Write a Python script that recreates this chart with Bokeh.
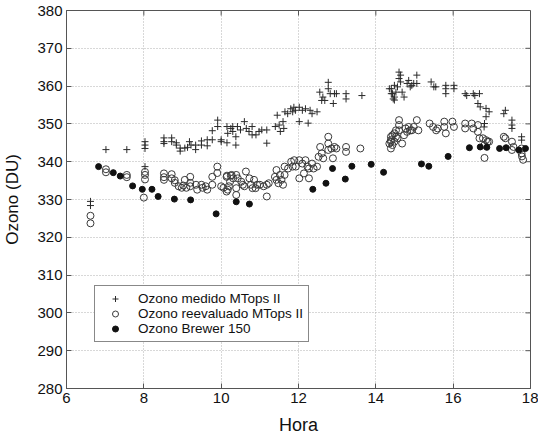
import math
from bokeh.plotting import figure
from bokeh.models import FixedTicker, Legend, LegendItem
from bokeh.embed import file_html
from bokeh.resources import INLINE

# ---- data ----
medido_hora = [6.62, 6.62, 7.02, 7.56, 8.03, 8.03, 8.03, 8.03, 8.52, 8.52, 8.52, 8.72, 8.72,
               8.84, 8.84, 8.94, 8.94, 9.06, 9.13, 9.18, 9.22, 9.34, 9.34, 9.49, 9.49, 9.64, 9.64,
               9.77, 9.77, 9.91, 9.91, 10.0, 10.0, 10.15, 10.15, 10.17, 10.25, 10.3, 10.3, 10.38, 10.38,
               10.42, 10.5, 10.6, 10.65, 10.72, 10.8, 10.8, 10.9, 10.98, 11.05, 11.18, 11.18,
               11.4, 11.45, 11.5, 11.53, 11.6, 11.62, 11.65, 11.72, 11.8, 11.88, 11.85, 11.92,
               12.02, 12.02, 12.1, 12.18, 12.25, 12.3, 12.35, 12.48, 12.55, 12.6, 12.63, 12.68,
               12.77, 12.77, 12.82, 12.9, 12.93, 12.98, 13.23, 13.23, 13.64,
               14.4, 14.4, 14.45, 14.48,
               14.35, 14.43, 14.48, 14.52, 14.48, 14.56, 14.64, 14.6, 14.64, 14.6, 14.68, 14.73,
               14.81, 14.85, 14.89, 14.93, 14.98, 15.06, 15.06,
               15.43, 15.5, 15.55, 15.81, 15.81, 15.81, 16.02, 16.02, 16.31, 16.35, 16.52, 16.56,
               16.68, 16.64, 16.7, 16.85, 16.85, 16.81, 16.93, 16.8, 17.31, 17.35,
               17.52, 17.52, 17.52, 17.77, 17.77]
medido_ozono = [329.5, 328.4, 343.2, 343.2, 345.3, 344.4, 343.5, 338.7, 346.3, 345.3, 344.8, 346.3, 345.3,
                345.0, 344.4, 343.6, 342.8, 343.6, 343.8, 345.3, 344.4, 344.4, 343.2, 345.5, 344.4, 345.8, 344.2,
                345.8, 348.2, 351.0, 349.3, 345.8, 345.3, 349.3, 345.0, 347.5, 348.8, 349.3, 348.0, 346.6, 344.4,
                349.3, 348.4, 350.6, 348.8, 348.0, 347.1, 349.3, 347.1, 348.0, 348.4, 348.4, 344.9,
                349.3, 352.3, 349.7, 348.0, 350.6, 348.8, 353.2, 352.7, 354.0, 354.4, 353.2, 353.6,
                350.6, 354.4, 353.6, 354.0, 350.2, 353.6, 352.7, 353.2, 358.4, 356.2, 357.1, 356.2,
                361.0, 359.3, 358.0, 355.4, 358.0, 358.0, 358.0, 356.6, 357.5,
                359.3, 358.0, 356.6, 360.2,
                359.3, 358.0, 357.1, 358.4, 356.3, 359.8, 361.1, 363.7, 362.9, 362.0, 358.4, 357.1,
                360.7, 361.5, 359.8, 360.2, 360.7, 362.9, 360.7,
                361.1, 359.8, 359.8, 360.2, 359.3, 358.0, 360.2, 359.3, 358.0, 357.5, 358.0, 357.5,
                358.0, 355.4, 354.5, 354.1, 351.9, 350.1, 353.2, 349.2, 352.7, 353.6,
                351.0, 349.7, 348.8, 346.6, 345.7]

reeval_hora = [6.62, 6.62, 7.02, 7.02, 7.56, 7.56, 8.03, 8.03, 8.03, 8.0, 8.52, 8.52, 8.52,
               8.72, 8.72, 8.8, 8.8, 8.9, 8.98, 9.02, 9.1, 9.06, 9.2, 9.2, 9.2, 9.35, 9.38,
               9.49, 9.52, 9.6, 9.64, 9.77, 9.77, 9.9, 9.9, 10.0, 10.06, 10.15, 10.17, 10.2, 10.25,
               10.14, 10.14, 10.27, 10.23, 10.31, 10.39, 10.39, 10.39, 10.43,
               10.52, 10.56, 10.64, 10.6, 10.73, 10.77, 10.81, 10.89, 10.85, 10.93,
               11.0, 11.1, 11.18, 11.18, 11.23,
               11.39, 11.43, 11.43, 11.48, 11.52, 11.56, 11.6, 11.64, 11.64,
               11.73, 11.81, 11.85, 11.89, 11.93, 12.02, 12.02, 12.1, 12.14, 12.18, 12.23, 12.27,
               12.27, 12.35, 12.39, 12.48,
               12.52, 12.56, 12.6, 12.64, 12.77, 12.77, 12.77, 12.85, 12.89, 12.93, 12.98,
               13.23, 13.23, 13.6,
               14.39, 14.39, 14.39, 14.43, 14.48,
               14.35, 14.39, 14.43, 14.48, 14.52, 14.52, 14.56, 14.6, 14.6, 14.6, 14.68, 14.73,
               14.77, 14.81, 14.85, 14.89, 14.93, 14.98, 15.06, 15.1,
               15.39, 15.48, 15.56, 15.6, 15.77, 15.77, 15.81, 15.98, 16.02,
               16.31, 16.31, 16.48, 16.52,
               16.64, 16.64, 16.68, 16.77, 16.81, 16.85, 16.89, 16.93, 16.81,
               17.31, 17.35, 17.52, 17.56, 17.52,
               17.77, 17.78, 17.81, 17.77]
reeval_ozono = [325.7, 323.7, 338.0, 337.2, 336.5, 335.9, 337.3, 336.5, 335.3, 330.5, 336.9, 335.9, 335.2,
                336.7, 335.6, 335.1, 334.4, 333.5, 333.1, 333.7, 333.1, 335.2, 336.0, 334.4, 333.5, 333.9, 332.6,
                333.9, 333.1, 333.5, 332.6, 336.0, 333.9, 338.7, 337.0, 333.5, 333.1, 336.3, 332.6, 333.5, 336.3,
                336.0, 332.1, 336.5, 334.7, 335.6, 336.5, 333.0, 331.2, 335.6,
                334.7, 333.9, 337.4, 333.5, 335.6, 333.9, 333.0, 333.0, 335.2, 333.9,
                333.9, 333.5, 333.9, 330.8, 334.3,
                336.0, 337.8, 335.2, 334.3, 336.5, 335.2, 333.9, 338.7, 336.5,
                338.2, 340.0, 338.7, 340.4, 338.7, 340.4, 335.6, 339.5, 336.9, 340.4, 338.7, 338.2,
                335.6, 339.5, 338.2, 338.7,
                341.3, 343.9, 342.2, 340.9, 346.6, 344.8, 343.1, 343.5, 340.9, 343.9, 343.5,
                343.9, 342.6, 343.5,
                346.6, 345.3, 343.5, 344.4, 347.5,
                344.8, 345.7, 347.0, 345.3, 346.6, 348.3, 346.2, 351.0, 349.7, 348.3, 344.8, 347.0,
                348.8, 347.9, 349.2, 348.3, 348.3, 349.2, 351.0, 348.3,
                350.1, 349.2, 348.3, 348.8, 350.6, 349.2, 347.5, 350.6, 349.2,
                350.1, 348.8, 350.1, 348.8,
                349.7, 347.9, 346.2, 346.2, 341.0, 345.7, 345.3, 345.3, 344.4,
                346.6, 346.2, 345.3, 343.9, 343.1,
                342.2, 341.4, 340.5, 343.5]

brewer_hora = [6.83, 7.21, 7.39, 7.71, 7.96, 8.21, 8.37, 8.79, 9.21, 9.87,
               10.39, 10.73, 12.37, 12.71, 12.88, 13.21, 13.38, 13.88, 14.2,
               15.18, 15.37, 15.87, 16.42, 16.7, 16.87, 17.2, 17.37, 17.7, 17.87]
brewer_ozono = [338.7, 337.1, 336.2, 333.6, 332.7, 332.7, 330.8, 330.1, 329.9, 326.2,
                329.4, 328.8, 332.7, 334.3, 338.2, 335.4, 338.8, 339.3, 337.2,
                339.4, 338.8, 341.4, 343.7, 343.9, 343.8, 343.5, 343.7, 343.1, 343.5]

x_ticks = [6, 8, 10, 12, 14, 16, 18]
y_ticks = [280, 290, 300, 310, 320, 330, 340, 350, 360, 370, 380]

labels = ["Ozono medido MTops II", "Ozono reevaluado MTops II", "Ozono Brewer 150"]

FONT = "Liberation Sans"
AXC = "#555555"

p = figure(width=538, height=437, x_range=(6, 18), y_range=(280, 380),
           output_backend="svg", toolbar_location=None,
           min_border_left=58, min_border_right=8, min_border_top=10, min_border_bottom=48)

r1 = p.scatter(medido_hora, medido_ozono, marker="cross", size=7,
               line_color="#2a2a2a", line_width=1)
r2 = p.scatter(reeval_hora, reeval_ozono, marker="circle", size=7,
               fill_color=None, line_color="#3a3a3a", line_width=1)
r3 = p.scatter(brewer_hora, brewer_ozono, marker="circle", size=6,
               fill_color="#111111", line_color="#111111", line_width=1)

for ax in (p.xaxis[0], p.yaxis[0]):
    ax.major_tick_in = 5
    ax.major_tick_out = 0
    ax.minor_tick_in = 0
    ax.minor_tick_out = 0
    ax.axis_line_color = AXC
    ax.major_tick_line_color = AXC
    ax.major_label_text_font = FONT
    ax.major_label_text_font_size = "15px"
    ax.major_label_text_color = "#111111"
    ax.axis_label_text_font = FONT
    ax.axis_label_text_font_style = "normal"
    ax.axis_label_text_color = "#111111"

p.xaxis.ticker = FixedTicker(ticks=x_ticks)
p.yaxis.ticker = FixedTicker(ticks=y_ticks)
p.xaxis.axis_label = "Hora"
p.yaxis.axis_label = "Ozono (DU)"
p.xaxis.axis_label_text_font_size = "18px"
p.yaxis.axis_label_text_font_size = "17px"
p.xaxis.major_label_standoff = 4
p.yaxis.major_label_standoff = 4
p.xaxis.axis_label_standoff = 9
p.yaxis.axis_label_standoff = 12

# inward tick marks on the right and top sides of the box (drawn at the tick values)
p.ray(x=[18] * len(y_ticks), y=y_ticks, length=5, length_units="screen",
      angle=math.pi, line_color=AXC, line_width=1)
p.ray(x=x_ticks, y=[380] * len(x_ticks), length=5, length_units="screen",
      angle=-math.pi / 2, line_color=AXC, line_width=1)

p.xgrid.ticker = FixedTicker(ticks=x_ticks)
p.ygrid.ticker = FixedTicker(ticks=y_ticks)
p.grid.grid_line_color = "#b0b0b0"
p.grid.grid_line_dash = "1 2"
p.grid.grid_line_width = 1
p.outline_line_color = AXC
p.outline_line_alpha = 1

legend = Legend(items=[LegendItem(label=labels[0], renderers=[r1]),
                       LegendItem(label=labels[1], renderers=[r2]),
                       LegendItem(label=labels[2], renderers=[r3])],
                location=(28, 46), orientation="vertical")
legend.border_line_color = "#111111"
legend.border_line_width = 1
legend.background_fill_color = "white"
legend.background_fill_alpha = 1
legend.padding = 5
legend.spacing = 0
legend.margin = 0
legend.glyph_width = 30
legend.glyph_height = 15
legend.label_height = 15
legend.label_standoff = 8
legend.label_text_font = FONT
legend.label_text_font_size = "13.5px"
legend.label_text_color = "#111111"
legend.label_text_line_height = 1.0
p.add_layout(legend, "center")

open("out.html", "w").write(file_html(p, INLINE))
